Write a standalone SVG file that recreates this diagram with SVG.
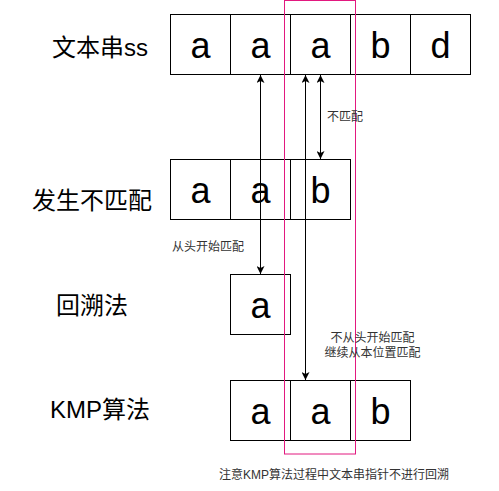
<svg xmlns="http://www.w3.org/2000/svg" width="499" height="491" viewBox="0 0 499 491">
<defs>
<marker id="ah" viewBox="0 0 10 10" refX="10" refY="5" markerWidth="8" markerHeight="8" markerUnits="userSpaceOnUse" orient="auto-start-reverse">
<path d="M0,0 L10,5 L0,10 L2.5,5 z" fill="#000"/>
</marker>
<style>
.box{fill:#fff;stroke:#000;stroke-width:1}
.ch{font-family:"Liberation Sans",Arial,sans-serif;font-size:36px;fill:#000;text-anchor:middle}
.lbl{font-family:"Liberation Sans","Noto Sans CJK SC",sans-serif;font-size:24px;fill:#000}
.sm{font-family:"Liberation Sans","Noto Sans CJK SC",sans-serif;font-size:12px;fill:#333}
.edge{stroke:#000;stroke-width:1;fill:none;marker-start:url(#ah);marker-end:url(#ah)}
</style>
</defs>
<rect width="499" height="491" fill="#fff"/>

<g id="label-text"><text class="lbl" x="52" y="56">文本串ss</text></g>
<g id="label-mismatch"><text class="lbl" x="32" y="209">发生不匹配</text></g>
<g id="label-backtrack"><text class="lbl" x="56" y="314">回溯法</text></g>
<g id="label-kmp"><text class="lbl" x="50" y="418">KMP算法</text></g>

<g id="text-string">
<rect class="box" x="170.5" y="14.5" width="60" height="60"/>
<rect class="box" x="230.5" y="14.5" width="60" height="60"/>
<rect class="box" x="290.5" y="14.5" width="60" height="60"/>
<rect class="box" x="350.5" y="14.5" width="60" height="60"/>
<rect class="box" x="410.5" y="14.5" width="60" height="60"/>
<text class="ch" x="200.5" y="57.5">a</text>
<text class="ch" x="260.5" y="57.5">a</text>
<text class="ch" x="320.5" y="57.5">a</text>
<text class="ch" x="380.5" y="57.5">b</text>
<text class="ch" x="440.5" y="57.5">d</text>
</g>

<g id="pattern-mismatch">
<rect class="box" x="170.5" y="159.5" width="60" height="60"/>
<rect class="box" x="230.5" y="159.5" width="60" height="60"/>
<rect class="box" x="290.5" y="159.5" width="60" height="60"/>
<text class="ch" x="200.5" y="202.5">a</text>
<text class="ch" x="260.5" y="202.5">a</text>
<text class="ch" x="320.5" y="202.5">b</text>
</g>

<g id="pattern-backtrack">
<rect class="box" x="230.5" y="274.5" width="60" height="60"/>
<text class="ch" x="260.5" y="317.5">a</text>
</g>

<g id="pattern-kmp">
<rect class="box" x="230.5" y="380.5" width="60" height="60"/>
<rect class="box" x="290.5" y="380.5" width="60" height="60"/>
<rect class="box" x="350.5" y="380.5" width="60" height="60"/>
<text class="ch" x="260.5" y="423.5">a</text>
<text class="ch" x="320.5" y="423.5">a</text>
<text class="ch" x="380.5" y="423.5">b</text>
</g>

<g id="highlight">
<rect x="284.5" y="0.5" width="71" height="453.5" fill="none" stroke="#E2187F" stroke-width="1"/>
</g>

<g id="connectors">
<line class="edge" x1="260.5" y1="75" x2="260.5" y2="274"/>
<line class="edge" x1="305.5" y1="75" x2="305.5" y2="380"/>
<line class="edge" x1="320.5" y1="75" x2="320.5" y2="159"/>
</g>

<g id="notes">
<text class="sm" x="327" y="121">不匹配</text>
<text class="sm" x="172" y="251">从头开始匹配</text>
<text class="sm" x="372.5" y="342" text-anchor="middle">不从头开始匹配</text>
<text class="sm" x="372.5" y="357" text-anchor="middle">继续从本位置匹配</text>
<text class="sm" x="334" y="479" text-anchor="middle">注意KMP算法过程中文本串指针不进行回溯</text>
</g>
</svg>
